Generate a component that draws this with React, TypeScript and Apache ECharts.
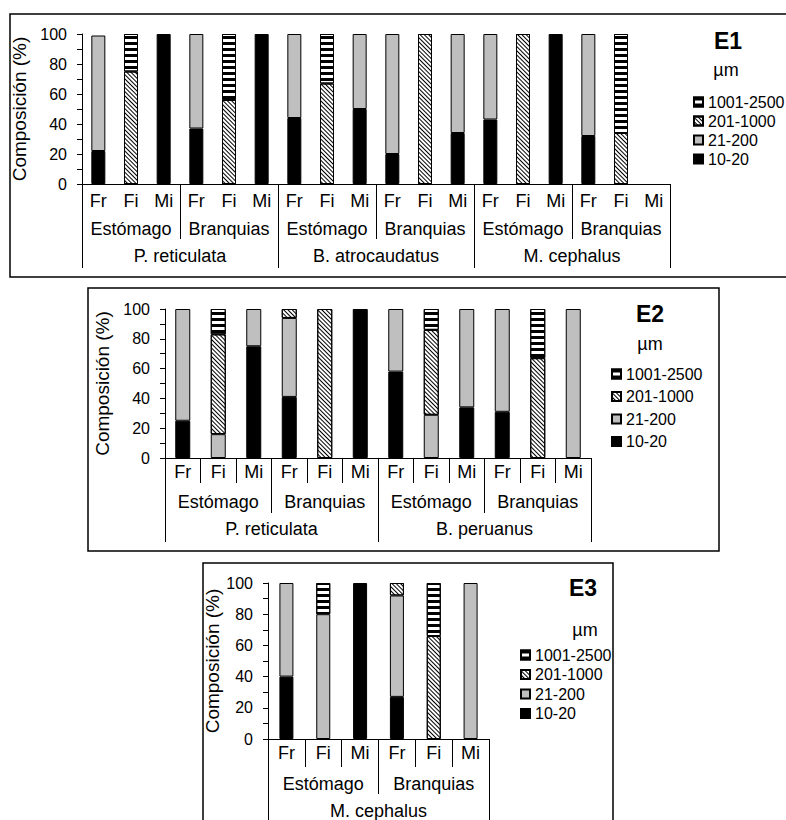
import React, { useEffect, useRef } from "react";
import * as echarts from "echarts";

const FONT = "'Liberation Sans', Arial, sans-serif";

// Legend / series names (stack order bottom -> top)
const SIZE_CLASSES = ["10-20", "21-200", "201-1000", "1001-2500"];
const LEGEND_ORDER = ["1001-2500", "201-1000", "21-200", "10-20"];
const SUB_LABELS = ["Fr", "Fi", "Mi"];

// ---- E1 ----
const E1_SUB = [...SUB_LABELS, ...SUB_LABELS, ...SUB_LABELS, ...SUB_LABELS, ...SUB_LABELS, ...SUB_LABELS];
const E1_ORGANS = ["Estómago", "Branquias", "Estómago", "Branquias", "Estómago", "Branquias"];
const E1_SPECIES = ["P. reticulata", "B. atrocaudatus", "M. cephalus"];
const E1_10_20 = [22, 0, 100, 37, 0, 100, 44, 0, 50, 20, 0, 34, 43, 0, 100, 32, 0, 0];
const E1_21_200 = [77, 0, 0, 63, 0, 0, 56, 0, 50, 80, 0, 66, 57, 0, 0, 68, 0, 0];
const E1_201_1000 = [0, 75, 0, 0, 56, 0, 0, 67, 0, 0, 100, 0, 0, 100, 0, 0, 34, 0];
const E1_1001_2500 = [0, 25, 0, 0, 44, 0, 0, 33, 0, 0, 0, 0, 0, 0, 0, 0, 66, 0];

// ---- E2 ----
const E2_SUB = [...SUB_LABELS, ...SUB_LABELS, ...SUB_LABELS, ...SUB_LABELS];
const E2_ORGANS = ["Estómago", "Branquias", "Estómago", "Branquias"];
const E2_SPECIES = ["P. reticulata", "B. peruanus"];
const E2_10_20 = [25, 0, 75, 41, 0, 100, 58, 0, 34, 31, 0, 0];
const E2_21_200 = [75, 16, 25, 53, 0, 0, 42, 29, 66, 69, 0, 100];
const E2_201_1000 = [0, 67, 0, 6, 100, 0, 0, 57, 0, 0, 67, 0];
const E2_1001_2500 = [0, 17, 0, 0, 0, 0, 0, 14, 0, 0, 33, 0];

// ---- E3 ----
const E3_SUB = [...SUB_LABELS, ...SUB_LABELS];
const E3_ORGANS = ["Estómago", "Branquias"];
const E3_SPECIES = ["M. cephalus"];
const E3_10_20 = [40, 0, 100, 27, 0, 0];
const E3_21_200 = [60, 80, 0, 65, 0, 100];
const E3_201_1000 = [0, 0, 0, 8, 66, 0];
const E3_1001_2500 = [0, 20, 0, 0, 34, 0];

const Y_TICKS = { min: 0, max: 100, interval: 20 };

const hatchDecal = {
  symbol: "rect",
  symbolSize: 1,
  color: "#000",
  dashArrayX: [1, 0],
  dashArrayY: [1, 1.8],
  rotation: Math.PI / 4,
};
const stripeDecal = {
  symbol: "rect",
  symbolSize: 1,
  color: "#000",
  dashArrayX: [1, 0],
  dashArrayY: [3, 2.5],
  rotation: 0,
};

const STYLES: Record<string, any> = {
  "10-20": { color: "#000", borderColor: "#000", borderWidth: 1 },
  "21-200": { color: "#BFBFBF", borderColor: "#000", borderWidth: 1 },
  "201-1000": { color: "#fff", borderColor: "#000", borderWidth: 1, decal: hatchDecal },
  "1001-2500": { color: "#fff", borderColor: "#000", borderWidth: 1, decal: stripeDecal },
};

type PanelCfg = {
  sub: string[];
  organs: string[];
  species: string[];
  values: number[][];
  grid: { left: number; top: number; width: number; height: number };
  barWidth: number;
  mainTickLen: number; // 0 = none
  organTickLen: number;
  speciesTickLen: number;
  margins: [number, number, number];
  nameGap: number;
  legend: { left: number; top: number; itemGap: number };
};

const CAT_FONT = 18;
const TICK_FONT = 16;
const NAME_FONT = 19;
const LEGEND_FONT = 16;

function buildPanel(p: number, cfg: PanelCfg) {
  const tickStyle = { color: "#000", width: 1 };
  const labelBase = { color: "#000", fontSize: CAT_FONT, fontFamily: FONT, interval: 0 };
  const xAxes = [
    {
      type: "category",
      gridIndex: p,
      position: "bottom",
      data: cfg.sub,
      axisLine: { show: true, lineStyle: { color: "#000", width: 1 } },
      axisTick: { show: cfg.mainTickLen > 0, length: cfg.mainTickLen, lineStyle: tickStyle, interval: 0 },
      axisLabel: { ...labelBase, margin: cfg.margins[0] },
    },
    {
      type: "category",
      gridIndex: p,
      position: "bottom",
      data: cfg.organs,
      axisLine: { show: false },
      axisTick: { show: true, length: cfg.organTickLen, lineStyle: tickStyle, interval: 0 },
      axisLabel: { ...labelBase, margin: cfg.margins[1] },
    },
    {
      type: "category",
      gridIndex: p,
      position: "bottom",
      data: cfg.species,
      axisLine: { show: false },
      axisTick: { show: true, length: cfg.speciesTickLen, lineStyle: tickStyle, interval: 0 },
      axisLabel: { ...labelBase, margin: cfg.margins[2] },
    },
  ];
  const yAxis = {
    type: "value",
    gridIndex: p,
    ...Y_TICKS,
    name: "Composición (%)",
    nameLocation: "middle",
    nameGap: cfg.nameGap,
    nameTextStyle: { color: "#000", fontSize: NAME_FONT, fontFamily: FONT },
    axisLine: { show: true, lineStyle: { color: "#000", width: 1 } },
    axisTick: { show: true, length: 5, lineStyle: tickStyle },
    minorTick: { show: true, splitNumber: 2, length: 5, lineStyle: tickStyle },
    splitLine: { show: false },
    axisLabel: { color: "#000", fontSize: TICK_FONT, fontFamily: FONT, margin: 15 },
  };
  const series = SIZE_CLASSES.map((name, i) => ({
    type: "bar",
    name,
    xAxisIndex: p * 3,
    yAxisIndex: p,
    stack: "panel" + p,
    barWidth: cfg.barWidth,
    data: cfg.values[i].map((v) => (v === 0 ? "-" : v)),
    itemStyle: STYLES[name],
    emphasis: { disabled: true },
  }));
  const legend = {
    data: LEGEND_ORDER,
    orient: "vertical",
    left: cfg.legend.left,
    top: cfg.legend.top,
    itemWidth: 9,
    itemHeight: 9,
    itemGap: cfg.legend.itemGap,
    icon: "rect",
    selectedMode: false,
    textStyle: { color: "#000", fontSize: LEGEND_FONT, fontFamily: FONT, lineHeight: 18 },
  };
  return { grid: { ...cfg.grid, containLabel: false }, xAxes, yAxis, series, legend };
}

const PANELS: PanelCfg[] = [
  {
    sub: E1_SUB,
    organs: E1_ORGANS,
    species: E1_SPECIES,
    values: [E1_10_20, E1_21_200, E1_201_1000, E1_1001_2500],
    grid: { left: 82, top: 34, width: 588, height: 150 },
    barWidth: 14,
    mainTickLen: 0,
    organTickLen: 55,
    speciesTickLen: 84,
    margins: [8, 36, 63],
    nameGap: 47,
    legend: { left: 688, top: 88, itemGap: 1 },
  },
  {
    sub: E2_SUB,
    organs: E2_ORGANS,
    species: E2_SPECIES,
    values: [E2_10_20, E2_21_200, E2_201_1000, E2_1001_2500],
    grid: { left: 165, top: 309, width: 426, height: 149 },
    barWidth: 15,
    mainTickLen: 25,
    organTickLen: 55,
    speciesTickLen: 84,
    margins: [5, 35, 62],
    nameGap: 50,
    legend: { left: 606, top: 360, itemGap: 4.5 },
  },
  {
    sub: E3_SUB,
    organs: E3_ORGANS,
    species: E3_SPECIES,
    values: [E3_10_20, E3_21_200, E3_201_1000, E3_1001_2500],
    grid: { left: 268, top: 583, width: 221, height: 159 },
    barWidth: 14,
    mainTickLen: 28,
    organTickLen: 55,
    speciesTickLen: 100,
    margins: [5, 36, 63],
    nameGap: 43,
    legend: { left: 515, top: 641, itemGap: 1.5 },
  },
];

const BOXES = [
  { x: 10, y: 14, w: 790, h: 263 },
  { x: 88, y: 288, w: 631, h: 263 },
  { x: 203, y: 563, w: 410, h: 300 },
];
const TITLES = [
  { t: "E1", x: 728, y: 41, ux: 726, uy: 70 },
  { t: "E2", x: 650, y: 314, ux: 650, uy: 344 },
  { t: "E3", x: 583, y: 588, ux: 585, uy: 630 },
];

export default function App() {
  const ref = useRef<HTMLDivElement>(null);
  useEffect(() => {
    if (!ref.current) return;
    const chart = echarts.init(ref.current, undefined, { renderer: "svg" });
    const built = PANELS.map((c, i) => buildPanel(i, c));
    const graphic: any[] = [];
    BOXES.forEach((b) =>
      graphic.push({
        type: "rect",
        shape: { x: b.x, y: b.y, width: b.w, height: b.h },
        style: { fill: "none", stroke: "#000", lineWidth: 1.5 },
        silent: true,
        z: -1,
      })
    );
    TITLES.forEach((t) => {
      graphic.push({
        type: "text",
        x: t.x,
        y: t.y,
        style: {
          text: t.t,
          fill: "#000",
          font: `bold 23px ${FONT}`,
          align: "center",
          verticalAlign: "middle",
          textAlign: "center",
          textVerticalAlign: "middle",
        },
      });
      graphic.push({
        type: "text",
        x: t.ux,
        y: t.uy,
        style: {
          text: "µm",
          fill: "#000",
          font: `18px ${FONT}`,
          align: "center",
          verticalAlign: "middle",
          textAlign: "center",
          textVerticalAlign: "middle",
        },
      });
    });
    chart.setOption({
      animation: false,
      backgroundColor: "#fff",
      textStyle: { fontFamily: FONT },
      grid: built.map((b) => b.grid),
      xAxis: built.flatMap((b) => b.xAxes),
      yAxis: built.map((b) => b.yAxis),
      series: built.flatMap((b) => b.series),
      legend: built.map((b) => b.legend),
      graphic,
    });
    return () => chart.dispose();
  }, []);
  return (
    <div
      ref={ref}
      style={{ position: "absolute", left: 0, top: 0, width: 786, height: 820 }}
    />
  );
}
